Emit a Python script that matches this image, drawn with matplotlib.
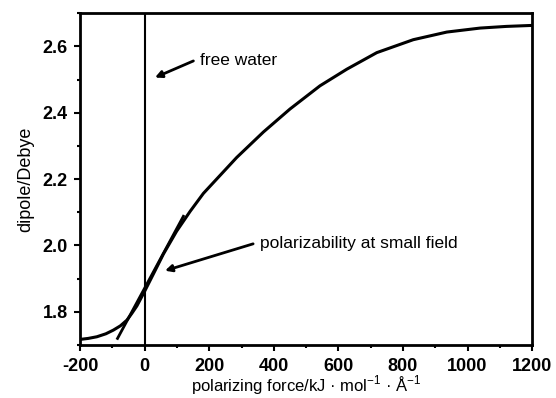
import matplotlib
matplotlib.use("Agg")
import matplotlib.pyplot as plt
from matplotlib.ticker import MultipleLocator

plt.rcParams["font.family"] = ["Liberation Sans", "DejaVu Sans"]
plt.rcParams["mathtext.fontset"] = "custom"
plt.rcParams["mathtext.rm"] = "Liberation Sans"
plt.rcParams["axes.unicode_minus"] = False

# curve
force = [-200, -175, -148, -120, -97, -75, -55, -40, -24, 0, 27, 58, 99, 141,
         182, 223, 285, 368, 450, 543, 626, 719, 832, 936, 1039, 1120, 1200]
dipole = [1.717, 1.720, 1.725, 1.734, 1.745, 1.758, 1.775, 1.795, 1.818, 1.862,
          1.914, 1.974, 2.043, 2.103, 2.157, 2.200, 2.265, 2.342, 2.411, 2.481,
          2.531, 2.581, 2.620, 2.643, 2.655, 2.660, 2.663]

# tangent at small field
tangent_x = [-84, 120]
tangent_y = [1.72, 2.088]

xticks = [-200, 0, 200, 400, 600, 800, 1000, 1200]
yticks = [1.8, 2.0, 2.2, 2.4, 2.6]

fig = plt.figure(figsize=(5.56, 3.98), dpi=100)
ax = fig.add_axes([0.144, 0.133, 0.813, 0.834])

ax.plot(force, dipole, color="black", lw=2.2, solid_joinstyle="round")
ax.plot(tangent_x, tangent_y, color="black", lw=2.0)
ax.axvline(0, color="black", lw=1.5)

ax.set_xlim(-200, 1200)
ax.set_ylim(1.70, 2.70)
ax.set_xticks(xticks)
ax.set_yticks(yticks)
ax.xaxis.set_minor_locator(MultipleLocator(100))
ax.yaxis.set_minor_locator(MultipleLocator(0.1))
ax.tick_params(which="major", direction="out", length=4, width=1.5,
               labelsize=13, pad=5)
ax.tick_params(which="minor", direction="out", length=2.5, width=1.5)
for lab in ax.get_xticklabels() + ax.get_yticklabels():
    lab.set_fontweight("bold")
for sp in ax.spines.values():
    sp.set_linewidth(2)

ax.set_xlabel("polarizing force/kJ · mol$^{-1}$ · Å$^{-1}$", fontsize=12, labelpad=-1)
ax.set_ylabel("dipole/Debye", fontsize=13, labelpad=6)

arrow = dict(arrowstyle="-|>", color="black", lw=2, mutation_scale=10,
             shrinkA=0, shrinkB=0)
ax.annotate("", xy=(32, 2.506), xytext=(151, 2.556), arrowprops=arrow)
ax.text(172, 2.556, "free water", fontsize=12.5, va="center", ha="left")
ax.annotate("", xy=(63, 1.924), xytext=(336, 2.005), arrowprops=arrow)
ax.text(357, 2.005, "polarizability at small field", fontsize=12.5,
        va="center", ha="left")

fig.savefig("out.png", dpi=100)
